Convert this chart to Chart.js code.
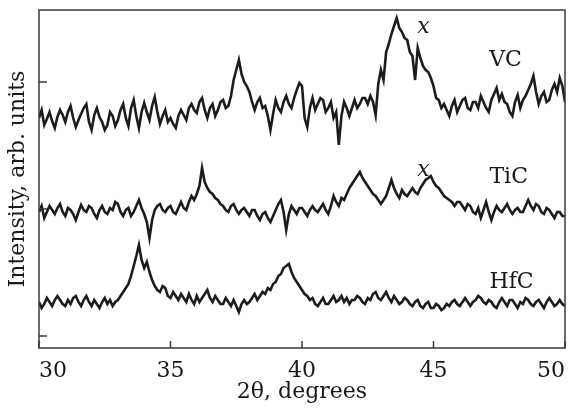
<!DOCTYPE html>
<html lang="en">
<head>
<meta charset="UTF-8">
<title>XRD patterns - VC, TiC, HfC</title>
<script src="https://cdn.jsdelivr.net/npm/chart.js"></script>
<style>
  html, body { margin: 0; padding: 0; background: #fff; }
  #xrd { display: block; }
</style>
</head>
<body>
<canvas id="xrd" width="575" height="408"></canvas>

<script>
// 2theta grid, degrees (30.0 ... 50.0, every 0.1)
const thetaStart = 30;
const thetaStep = 0.1;

// intensities (arb. units, each curve already offset)
// one row per degree: d.0 ... d.9
const vcData = [
  230, 238, 223, 229, 236, 227, 220, 231, 238, 233,
  226, 236, 242, 230, 221, 228, 234, 240, 244, 226,
  218, 233, 240, 231, 226, 218, 223, 236, 232, 222,
  228, 238, 244, 230, 222, 240, 248, 232, 220, 236,
  245, 236, 228, 242, 251, 236, 224, 232, 238, 226,
  230, 224, 220, 232, 238, 233, 228, 240, 244, 238,
  235, 246, 250, 238, 230, 240, 244, 232, 238, 246,
  248, 240, 242, 252, 268, 278, 288, 274, 266, 262,
  256, 246, 238, 246, 250, 240, 242, 232, 218, 234,
  248, 240, 236, 246, 252, 244, 240, 250, 258, 265,
  262, 230, 221, 240, 250, 238, 244, 250, 248, 236,
  240, 246, 230, 236, 203, 232, 246, 240, 232, 240,
  248, 240, 244, 250, 250, 244, 252, 246, 233, 264,
  278, 268, 296, 304, 314, 322, 330, 320, 316, 310,
  308, 296, 292, 268, 300, 290, 282, 278, 276, 270,
  262, 250, 248, 240, 244, 238, 232, 242, 248, 236,
  242, 248, 250, 240, 238, 246, 246, 240, 252, 246,
  240, 236, 248, 254, 260, 248, 254, 246, 244, 236,
  232, 246, 253, 240, 248, 252, 258, 264, 272, 256,
  244, 252, 256, 246, 248, 258, 264, 256, 270, 262,
  246
];
const ticData = [
  136, 142, 130, 136, 142, 138, 134, 140, 144, 136,
  132, 140, 138, 134, 128, 136, 143, 138, 136, 142,
  140, 134, 130, 138, 142, 136, 134, 140, 138, 146,
  144, 136, 132, 138, 140, 132, 136, 142, 148, 140,
  134, 126, 110, 128, 138, 142, 144, 138, 136, 140,
  142, 136, 134, 140, 146, 140, 138, 146, 152, 148,
  154, 162, 180, 166, 160, 156, 154, 150, 148, 144,
  142, 138, 136, 142, 144, 138, 134, 138, 140, 136,
  132, 138, 138, 132, 128, 134, 136, 130, 126, 132,
  138, 144, 148, 136, 118, 134, 142, 138, 134, 140,
  140, 136, 132, 138, 142, 138, 136, 140, 144, 138,
  134, 142, 152, 146, 142, 150, 148, 154, 160, 164,
  168, 172, 176, 170, 166, 162, 158, 154, 152, 148,
  144, 148, 152, 160, 168, 160, 154, 150, 158, 154,
  152, 156, 160, 156, 154, 160, 164, 168, 170, 172,
  166, 162, 160, 156, 152, 150, 148, 146, 142, 146,
  146, 142, 138, 144, 142, 136, 134, 140, 130, 138,
  146, 136, 128, 136, 142, 138, 136, 140, 144, 138,
  134, 138, 140, 136, 136, 142, 148, 142, 138, 144,
  142, 136, 134, 140, 138, 134, 130, 136, 136, 132,
  132
];
const hfcData = [
  46, 40, 44, 50, 46, 42, 48, 52, 48, 44,
  42, 48, 44, 50, 52, 46, 42, 48, 52, 46,
  42, 48, 44, 40, 46, 50, 44, 48, 42, 46,
  48, 52, 56, 60, 64, 72, 82, 92, 103, 88,
  80, 86, 76, 68, 62, 58, 56, 62, 60, 52,
  50, 56, 52, 48, 54, 50, 46, 54, 48, 44,
  52, 46, 50, 54, 58, 50, 46, 52, 48, 44,
  44, 50, 46, 42, 48, 42, 36, 44, 48, 44,
  46, 50, 54, 48, 52, 56, 54, 60, 58, 64,
  66, 72, 74, 80, 82, 84, 76, 70, 66, 62,
  58, 54, 52, 48, 50, 44, 42, 46, 50, 44,
  44, 48, 52, 46, 48, 52, 46, 50, 44, 48,
  48, 52, 50, 46, 44, 50, 48, 54, 56, 50,
  48, 52, 56, 50, 46, 52, 48, 44, 46, 50,
  48, 44, 42, 46, 48, 42, 40, 44, 46, 40,
  40, 44, 42, 38, 40, 44, 42, 46, 48, 44,
  42, 46, 50, 46, 42, 46, 48, 52, 50, 46,
  44, 48, 46, 42, 40, 46, 50, 46, 42, 48,
  48, 44, 40, 46, 44, 50, 48, 44, 42, 46,
  48, 44, 40, 46, 50, 46, 42, 44, 48, 44,
  42
];

const xTicks = [30, 35, 40, 45, 50];
const yTicks = [12, 139, 266];

// curve names and the "x" marks, placed at (2theta, intensity)
const curveLabels = [
  { text: 'VC', x: 47.74, y: 288 },
  { text: 'TiC', x: 47.86, y: 171 },
  { text: 'HfC', x: 47.97, y: 66 }
];
const xMarks = [
  { text: 'x', x: 44.62, y: 321 },
  { text: 'x', x: 44.62, y: 178 }
];

const serif = '"DejaVu Serif", "Liberation Serif", serif';

function toPoints(values) {
  return values.map((v, i) => ({ x: +(thetaStart + i * thetaStep).toFixed(2), y: v }));
}

// frame, inward tick marks and text labels
const framePlugin = {
  id: 'frame',
  afterDraw(chart) {
    const ctx = chart.ctx;
    const a = chart.chartArea;
    const xs = chart.scales.x, ys = chart.scales.y;
    ctx.save();
    ctx.strokeStyle = '#3a3a3a';
    ctx.lineWidth = 1.5;
    ctx.strokeRect(a.left, a.top, a.right - a.left, a.bottom - a.top);

    ctx.beginPath();
    xTicks.forEach(t => {
      const px = xs.getPixelForValue(t);
      ctx.moveTo(px, a.bottom);
      ctx.lineTo(px, a.bottom - 7);
    });
    yTicks.forEach(t => {
      const py = ys.getPixelForValue(t);
      ctx.moveTo(a.left, py);
      ctx.lineTo(a.left + 8, py);
    });
    ctx.stroke();

    ctx.fillStyle = '#1a1a1a';
    ctx.textAlign = 'center';
    ctx.textBaseline = 'middle';
    ctx.font = '22px ' + serif;
    curveLabels.forEach(l => {
      ctx.fillText(l.text, xs.getPixelForValue(l.x), ys.getPixelForValue(l.y));
    });
    ctx.font = 'italic 22px ' + serif;
    xMarks.forEach(l => {
      ctx.fillText(l.text, xs.getPixelForValue(l.x), ys.getPixelForValue(l.y));
    });
    ctx.restore();
  }
};

const lineStyle = {
  borderColor: '#1c1c1c',
  borderWidth: 2.6,
  pointRadius: 0,
  tension: 0,
  fill: false
};

new Chart(document.getElementById('xrd').getContext('2d'), {
  type: 'line',
  data: {
    datasets: [
      Object.assign({ label: 'VC', data: toPoints(vcData) }, lineStyle),
      Object.assign({ label: 'TiC', data: toPoints(ticData) }, lineStyle),
      Object.assign({ label: 'HfC', data: toPoints(hfcData) }, lineStyle)
    ]
  },
  options: {
    responsive: false,
    animation: false,
    devicePixelRatio: 1,
    layout: { padding: { top: 10, right: 4, left: 0, bottom: 0 } },
    plugins: {
      legend: { display: false },
      tooltip: { enabled: false }
    },
    scales: {
      x: {
        type: 'linear',
        min: 30,
        max: 50,
        afterBuildTicks: scale => { scale.ticks = xTicks.map(v => ({ value: v })); },
        afterFit: scale => { scale.height = 60; },
        grid: { display: false, drawTicks: false },
        border: { display: false },
        ticks: {
          align: 'inner',
          padding: 10,
          color: '#1a1a1a',
          font: { family: serif, size: 22 }
        },
        title: {
          display: true,
          text: '2θ, degrees',
          color: '#1a1a1a',
          font: { family: serif, size: 22 },
          padding: { top: 0, bottom: 3 }
        }
      },
      y: {
        min: 0,
        max: 338,
        afterFit: scale => { scale.width = 39; },
        grid: { display: false, drawTicks: false },
        border: { display: false },
        ticks: { display: false },
        title: {
          display: true,
          text: 'Intensity, arb. units',
          color: '#1a1a1a',
          font: { family: serif, size: 22 },
          padding: { top: 5, bottom: 0 }
        }
      }
    }
  },
  plugins: [framePlugin]
});
</script>
</body>
</html>
